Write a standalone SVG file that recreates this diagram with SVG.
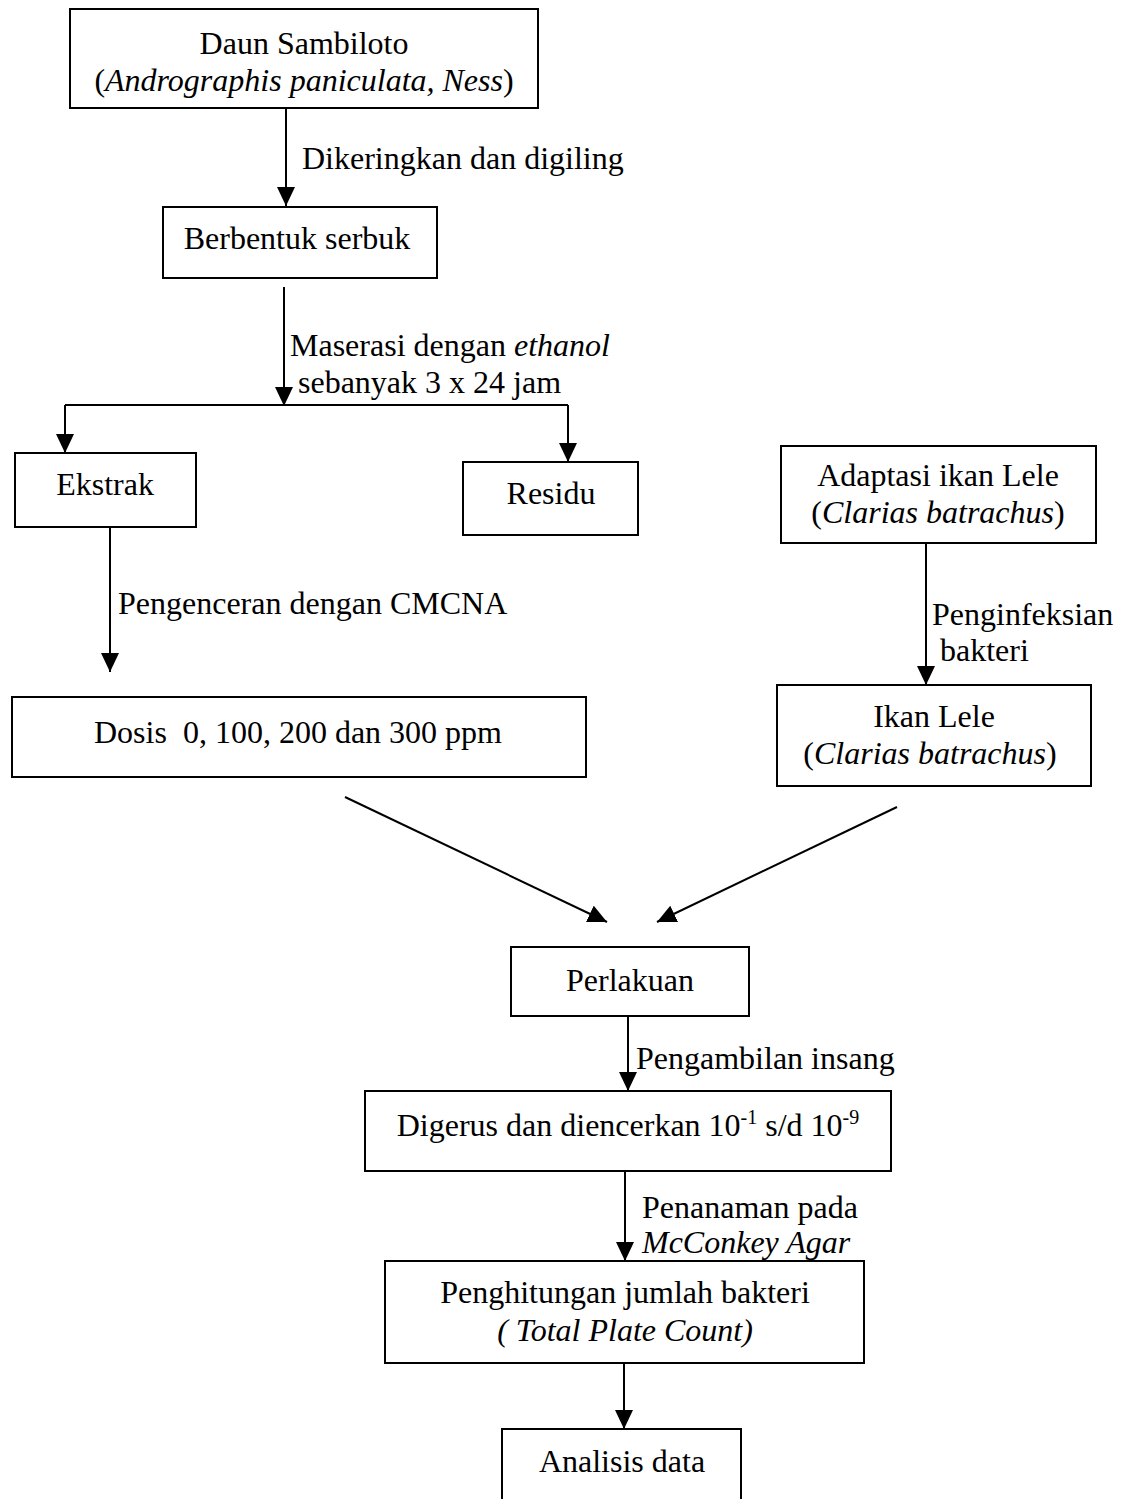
<svg xmlns="http://www.w3.org/2000/svg" width="1122" height="1499" viewBox="0 0 1122 1499">
<style>
.box{fill:#fff;stroke:#000;stroke-width:2}
.t{font-family:"Liberation Serif","Times New Roman",serif;font-size:32px;fill:#000}
.c{text-anchor:middle}
.i{font-style:italic}
.ln{stroke:#000;stroke-width:2;fill:none}
</style>
<defs>
<marker id="ah" markerUnits="userSpaceOnUse" markerWidth="20" markerHeight="20" refX="19" refY="9" orient="auto">
<path d="M0,0 L19,9 L0,18 z" fill="#000"/>
</marker>
</defs>
<rect width="1122" height="1499" fill="#fff"/>
<g id="connectors">
<line class="ln" x1="286" y1="108" x2="286" y2="206" marker-end="url(#ah)"/>
<line class="ln" x1="284" y1="287" x2="284" y2="406" marker-end="url(#ah)"/>
<polyline class="ln" points="65,405 568,405"/>
<line class="ln" x1="65" y1="405" x2="65" y2="453" marker-end="url(#ah)"/>
<line class="ln" x1="568" y1="405" x2="568" y2="462" marker-end="url(#ah)"/>
<line class="ln" x1="110" y1="527" x2="110" y2="672" marker-end="url(#ah)"/>
<line class="ln" x1="926" y1="543" x2="926" y2="685" marker-end="url(#ah)"/>
<line class="ln" x1="345" y1="797" x2="607" y2="922" marker-end="url(#ah)"/>
<line class="ln" x1="897" y1="807" x2="657" y2="922" marker-end="url(#ah)"/>
<line class="ln" x1="628" y1="1016" x2="628" y2="1091" marker-end="url(#ah)"/>
<line class="ln" x1="625" y1="1171" x2="625" y2="1261" marker-end="url(#ah)"/>
<line class="ln" x1="624" y1="1363" x2="624" y2="1429" marker-end="url(#ah)"/>
<text class="t" x="302" y="169">Dikeringkan dan digiling</text>
<text class="t" x="290" y="356">Maserasi dengan <tspan class="i">ethanol</tspan></text>
<text class="t" x="298" y="393">sebanyak 3 x 24 jam</text>
<text class="t" x="118" y="614">Pengenceran dengan CMCNA</text>
<text class="t" x="932" y="625">Penginfeksian</text>
<text class="t" x="940" y="661">bakteri</text>
<text class="t" x="636" y="1069">Pengambilan insang</text>
<text class="t" x="642" y="1218">Penanaman pada</text>
<text class="t i" x="642" y="1253">McConkey Agar</text>
</g>
<g id="n-daun">
<rect class="box" x="70" y="9" width="468" height="99"/>
<text class="t c" x="304" y="54">Daun Sambiloto</text>
<text class="t c" x="304" y="91">(<tspan class="i">Andrographis paniculata, Ness</tspan>)</text>
</g>
<g id="n-serbuk">
<rect class="box" x="163" y="207" width="274" height="71"/>
<text class="t c" x="297" y="249">Berbentuk serbuk</text>
</g>
<g id="n-ekstrak">
<rect class="box" x="15" y="453" width="181" height="74"/>
<text class="t c" x="105" y="495">Ekstrak</text>
</g>
<g id="n-residu">
<rect class="box" x="463" y="462" width="175" height="73"/>
<text class="t c" x="551" y="504">Residu</text>
</g>
<g id="n-adaptasi">
<rect class="box" x="781" y="446" width="315" height="97"/>
<text class="t c" x="938" y="486">Adaptasi ikan Lele</text>
<text class="t c" x="938" y="523">(<tspan class="i">Clarias batrachus</tspan>)</text>
</g>
<g id="n-ikanlele">
<rect class="box" x="777" y="685" width="314" height="101"/>
<text class="t c" x="934" y="727">Ikan Lele</text>
<text class="t c" x="930" y="764">(<tspan class="i">Clarias batrachus</tspan>)</text>
</g>
<g id="n-dosis">
<rect class="box" x="12" y="697" width="574" height="80"/>
<text class="t c" x="298" y="743" xml:space="preserve">Dosis  0, 100, 200 dan 300 ppm</text>
</g>
<g id="n-perlakuan">
<rect class="box" x="511" y="947" width="238" height="69"/>
<text class="t c" x="630" y="991">Perlakuan</text>
</g>
<g id="n-digerus">
<rect class="box" x="365" y="1091" width="526" height="80"/>
<text class="t c" x="628" y="1136">Digerus dan diencerkan 10<tspan font-size="20" dy="-12">-1</tspan><tspan dy="12"> s/d 10</tspan><tspan font-size="20" dy="-12">-9</tspan></text>
</g>
<g id="n-penghitungan">
<rect class="box" x="385" y="1261" width="479" height="102"/>
<text class="t c" x="625" y="1303">Penghitungan jumlah bakteri</text>
<text class="t c i" x="625" y="1341">( Total Plate Count)</text>
</g>
<g id="n-analisis">
<rect class="box" x="502" y="1429" width="239" height="90"/>
<text class="t c" x="622" y="1472">Analisis data</text>
</g>
</svg>
